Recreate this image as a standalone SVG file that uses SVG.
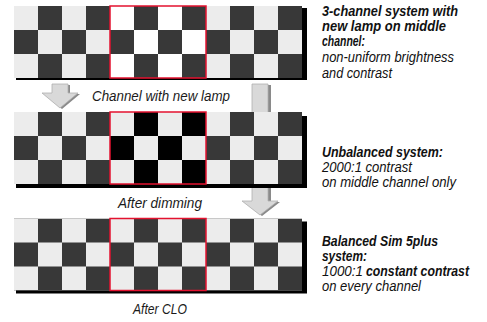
<svg xmlns="http://www.w3.org/2000/svg" width="487" height="322" viewBox="0 0 487 322">
  <style>
    .frame { fill: none; stroke: #e3122f; stroke-width: 1.5; }
    .shadow { fill: #000; }
    .arrow { fill: #d9d9d9; stroke: #b0b0b0; stroke-width: 0.8; }
    .arrow-shadow { fill: #8a8a8a; }
    .lbl { font-family: "Liberation Sans", Arial, sans-serif; font-style: italic; font-size: 15px; fill: #1a1a1a; }
    .desc { font-family: "Liberation Sans", Arial, sans-serif; font-style: italic; font-size: 14.5px; fill: #111; }
    .b { font-weight: bold; }
    .sm { font-size: 13.8px; }
  </style>
  <defs>
    <pattern id="chk" patternUnits="userSpaceOnUse" width="48" height="48">
      <rect width="48" height="48" fill="#ececec"/>
      <rect x="24" y="0" width="24" height="24" fill="#383838"/>
      <rect x="0" y="24" width="24" height="24" fill="#383838"/>
    </pattern>
    <pattern id="chkW" patternUnits="userSpaceOnUse" width="48" height="48">
      <rect width="48" height="48" fill="#ffffff"/>
      <rect x="24" y="0" width="24" height="24" fill="#383838"/>
      <rect x="0" y="24" width="24" height="24" fill="#383838"/>
    </pattern>
    <pattern id="chkB" patternUnits="userSpaceOnUse" width="48" height="48">
      <rect width="48" height="48" fill="#ececec"/>
      <rect x="24" y="0" width="24" height="24" fill="#000000"/>
      <rect x="0" y="24" width="24" height="24" fill="#000000"/>
    </pattern>
  </defs>
  <rect width="487" height="322" fill="#ffffff"/>

  <g id="connectors">
    <g id="arrow-left">
      <polygon class="arrow-shadow" points="54,85 70,85 70,94 80,94 62,109 44,94 54,94"/>
      <polygon class="arrow" points="52,84 68,84 68,93 78,93 60,108 42,93 52,93"/>
    </g>
    <g id="arrow-right">
      <polygon class="arrow-shadow" points="254,85 271,85 271,202 280,202 262,216 244,202 254,202"/>
      <polygon class="arrow" points="252,84 268,84 268,201 278,201 260,215 242,201 252,201"/>
    </g>
  </g>

  <g id="board-top" transform="translate(14,6)">
    <rect class="shadow" x="2" y="2" width="291" height="72"/>
    <rect width="288" height="72" fill="url(#chk)"/>
    <rect x="96" width="96" height="72" fill="url(#chkW)"/>
    <rect class="frame" x="96" y="0" width="96" height="72"/>
  </g>

  <g id="board-middle" transform="translate(14,112)">
    <rect class="shadow" x="2" y="4" width="291" height="72"/>
    <rect width="288" height="72" fill="url(#chk)"/>
    <rect x="96" width="96" height="72" fill="url(#chkB)"/>
    <rect class="frame" x="96" y="0" width="96" height="72"/>
  </g>

  <g id="board-bottom" transform="translate(14,218.5)">
    <rect class="shadow" x="2" y="3" width="291" height="72"/>
    <rect width="288" height="72" fill="url(#chk)"/>
    <rect class="frame" x="96" y="0" width="96" height="72"/>
  </g>

  <g id="label-new-lamp">
    <text class="lbl" x="92" y="101" textLength="138" lengthAdjust="spacingAndGlyphs">Channel with new lamp</text>
  </g>
  <g id="label-dimming">
    <text class="lbl" x="118" y="208" textLength="84" lengthAdjust="spacingAndGlyphs">After dimming</text>
  </g>
  <g id="label-clo">
    <text class="lbl" x="133" y="314" textLength="54" lengthAdjust="spacingAndGlyphs">After CLO</text>
  </g>

  <g id="desc-top">
    <text class="desc b" x="322" y="15.5" textLength="136" lengthAdjust="spacingAndGlyphs">3-channel system with</text>
    <text class="desc b" x="322" y="30.5" textLength="124" lengthAdjust="spacingAndGlyphs">new lamp on middle</text>
    <text class="desc b" x="322" y="45.5" textLength="43" lengthAdjust="spacingAndGlyphs">channel:</text>
    <text class="desc" x="322" y="62" textLength="132" lengthAdjust="spacingAndGlyphs">non-uniform brightness</text>
    <text class="desc" x="322" y="77.5" textLength="70" lengthAdjust="spacingAndGlyphs">and contrast</text>
  </g>

  <g id="desc-middle">
    <text class="desc b" x="322" y="157" textLength="121" lengthAdjust="spacingAndGlyphs">Unbalanced system:</text>
    <text class="desc" x="322" y="172" textLength="90" lengthAdjust="spacingAndGlyphs">2000:1 contrast</text>
    <text class="desc" x="322" y="187" textLength="134" lengthAdjust="spacingAndGlyphs">on middle channel only</text>
  </g>

  <g id="desc-bottom">
    <text class="desc b" x="322" y="246" textLength="116" lengthAdjust="spacingAndGlyphs">Balanced Sim 5plus</text>
    <text class="desc b" x="322" y="261" textLength="45" lengthAdjust="spacingAndGlyphs">system:</text>
    <text class="desc" x="322" y="276" textLength="41" lengthAdjust="spacingAndGlyphs">1000:1</text>
    <text class="desc b sm" x="366" y="276" textLength="103" lengthAdjust="spacingAndGlyphs">constant contrast</text>
    <text class="desc" x="322" y="291" textLength="99" lengthAdjust="spacingAndGlyphs">on every channel</text>
  </g>
</svg>
